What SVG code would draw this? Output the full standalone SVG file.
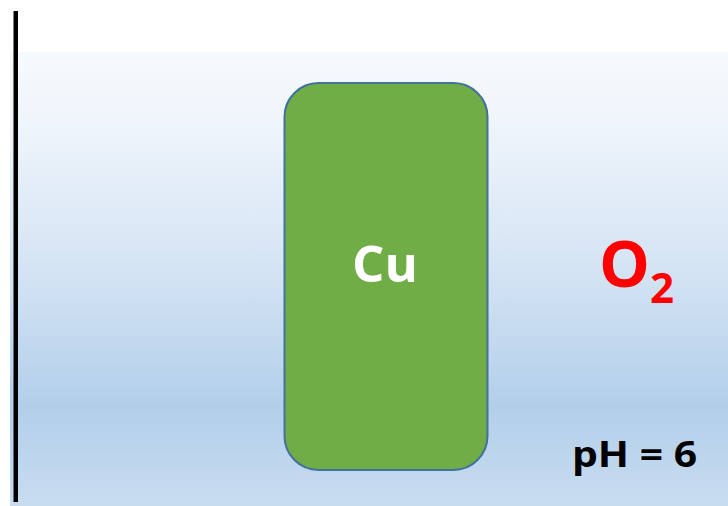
<svg xmlns="http://www.w3.org/2000/svg" width="728" height="506" viewBox="0 0 728 506">
  <defs>
    <linearGradient id="water" x1="0" y1="0" x2="0" y2="1">
      <stop offset="0" stop-color="#f7fafd"/>
      <stop offset="0.17" stop-color="#eef4fb"/>
      <stop offset="0.5" stop-color="#d2e2f3"/>
      <stop offset="0.78" stop-color="#b2cfea"/>
      <stop offset="1" stop-color="#c8dcf0"/>
    </linearGradient>
    <style>
      .lbl { font-family: "Open Sans", "Liberation Sans", sans-serif; font-weight: 700; }
    </style>
  </defs>
  <rect width="728" height="506" fill="#ffffff"/>
  <g id="solution">
    <rect x="10" y="52" width="718" height="454" fill="url(#water)"/>
  </g>
  <g id="wall">
    <rect x="13.5" y="11" width="4.5" height="491" fill="#000000"/>
  </g>
  <g id="cu">
    <rect x="284.5" y="83" width="203" height="387" rx="34" ry="34" fill="#70ad47" stroke="#41719c" stroke-width="2"/>
    <text class="lbl" x="385" y="282" font-size="51" fill="#ffffff" text-anchor="middle">Cu</text>
  </g>
  <g id="o2">
    <text class="lbl" x="599" y="287" font-size="64" fill="#ff0000">O<tspan font-size="42" dy="16">2</tspan></text>
  </g>
  <g id="ph">
    <text class="lbl" x="572" y="467" font-size="35" fill="#000000" textLength="125" lengthAdjust="spacingAndGlyphs">pH = 6</text>
  </g>
  <g id="connectors"/>
</svg>
